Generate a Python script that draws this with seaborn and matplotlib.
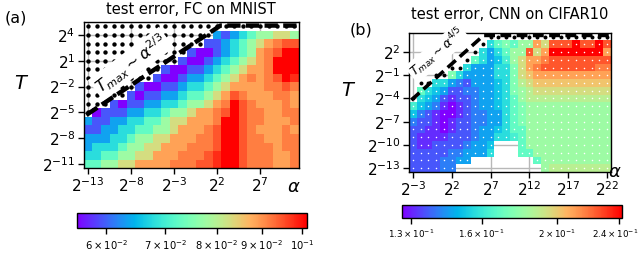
import numpy as np
import pandas as pd
import matplotlib
matplotlib.use("Agg")
import matplotlib.pyplot as plt
import matplotlib.transforms as mtransforms
import seaborn as sns
from matplotlib.colors import LogNorm

# ---------------- data ----------------
# colour codes: index in CODE -> entry in the level list
CODE = "0a1b2c3d4e5f6g7h8i9"

# panel (a): test error, FC on MNIST
levels_a = [0.0556, 0.05748, 0.05943, 0.06144, 0.06352, 0.06567, 0.06789, 0.07019,
            0.07256, 0.07502, 0.07756, 0.08018, 0.08289, 0.08570, 0.08860, 0.09160,
            0.09470, 0.09790, 0.1012]
log2_alpha_a = list(range(-13, 12))      # columns
log2_T_a = list(range(5, -12, -1))       # rows, top to bottom
grid_a = [
    ".........................",
    "...............2123455665",
    "..............11234567h88",
    "............100123457h899",
    "...........1001234567h999",
    ".........100112345677h999",
    "........10012234567h7h89i",
    "......100112334567777hh8h",
    ".....1011223445678h777hh7",
    "...1011223345567h98h777h7",
    ".01112233455677h898hh77hh",
    "211223344566777h998hh777h",
    "11223344556777h8998h777h7",
    "2223345566777hh8998hh77hh",
    "233345566777hhh8998hhh7hh",
    "33445566777hhh8i998hhh77h",
    "4455667777hhh88i998hhh77h",
]
xticks_a = [-13, -8, -3, 2, 7]
yticks_a = [4, 1, -2, -5, -8, -11]
cbar_ticks_a = [0.06, 0.07, 0.08, 0.09, 0.1]
cbar_labels_a = [r"$6\times10^{-2}$", r"$7\times10^{-2}$", r"$8\times10^{-2}$",
                 r"$9\times10^{-2}$", r"$10^{-1}$"]
tmax_a_log2_alpha = [-13.2, 2.4, 11.5]
tmax_a_log2_T = [-5.3, 5.1, 5.1]

# panel (b): test error, CNN on CIFAR10
levels_b = [0.1266, 0.13124, 0.13605, 0.14104, 0.14621, 0.15157, 0.15713, 0.16289,
            0.16886, 0.17505, 0.18147, 0.18812, 0.19502, 0.20217, 0.20958, 0.21726,
            0.22523, 0.23349, 0.2420]
log2_alpha_b = list(range(-3, 23))
log2_T_b = list(range(4, -14, -1))
grid_b = [
    "..........................",
    "..........34e4557688898898",
    ".........32345586799999997",
    "........432cd5677h88888888",
    ".......322233e67h8888888hh",
    ".....e3222233e6g7777777777",
    "...332b1222c3ef6gggggggggg",
    ".43c211bb22c3e5f6666666666",
    ".3c21a11b22c345fffffffffff",
    "dc2ba0a1b22c34e55555555555",
    "cb1a00a1bb2234e55555555555",
    "b11a0a11bb2234e55555555555",
    "11aa0a11b22c34455555555555",
    "1aaaa111b2233d455555555555",
    "1aa1111b22c...455555555555",
    "11111bb2223...445555555555",
    "1111bb22........4555555555",
    "1111bb...........5ffffffff",
]
xticks_b = [-3, 2, 7, 12, 17, 22]
yticks_b = [2, -1, -4, -7, -10, -13]
cbar_ticks_b = [0.13, 0.16, 0.2, 0.24]
cbar_labels_b = [r"$1.3\times10^{-1}$", r"$1.6\times10^{-1}$", r"$2\times10^{-1}$",
                 r"$2.4\times10^{-1}$"]
tmax_b_log2_alpha = [-3.2, 6.1, 22.5]
tmax_b_log2_T = [-4.2, 4.15, 4.15]


def decode(rows, levels):
    return np.array([[np.nan if ch == "." else levels[CODE.index(ch)] for ch in r]
                     for r in rows])


Z_a = decode(grid_a, levels_a)
Z_b = decode(grid_b, levels_b)

# ---------------- figure ----------------
fig = plt.figure(figsize=(6.4, 2.65), dpi=100)
W, H = 640.0, 265.0
ax_a = fig.add_axes([83.7 / W, 1 - 168.3 / H, 215 / W, 146.2 / H])
ax_b = fig.add_axes([409 / W, 1 - 172 / H, 202 / W, 139.3 / H])
cax_a = fig.add_axes([77 / W, 1 - 228 / H, 230 / W, 15 / H])
cax_b = fig.add_axes([402 / W, 1 - 218 / H, 220 / W, 13 / H])


def draw(ax, cax, Z, la, lt, levels, xt, yt, cticks, clabels, title, title_pad, cfs):
    df = pd.DataFrame(Z, index=lt, columns=la)
    sns.heatmap(df, ax=ax, cmap="rainbow", norm=LogNorm(levels[0], levels[-1]),
                cbar_ax=cax, cbar_kws={"orientation": "horizontal"},
                xticklabels=False, yticklabels=False, linewidths=0)
    x0, y0 = la[0], lt[0]
    ax.set_xticks([v - x0 + 0.5 for v in xt])
    ax.set_xticklabels([r"$2^{%d}$" % v for v in xt], fontsize=11)
    ax.set_yticks([y0 - v + 0.5 for v in yt])
    ax.set_yticklabels([r"$2^{%d}$" % v for v in yt], fontsize=11, rotation=0)
    ax.set_xlabel("")
    ax.set_ylabel("")
    ax.tick_params(length=4, width=1, color="k", direction="out", pad=2)
    ax.grid(True, color="#b8b8b8", lw=1.0)
    ax.set_axisbelow(True)
    for s in ax.spines.values():
        s.set_visible(True)
        s.set_color("k")
        s.set_linewidth(1.0)
    ax.set_title(title, fontsize=10.5, pad=title_pad)
    cb = ax.collections[0].colorbar
    cb.outline.set_visible(True)
    cb.outline.set_linewidth(1.0)
    cb.outline.set_edgecolor("k")
    cb.set_ticks(cticks)
    cb.set_ticklabels(clabels)
    cb.ax.minorticks_off()
    cb.ax.tick_params(labelsize=cfs, length=4, width=1, pad=3)
    return cb


cb_a = draw(ax_a, cax_a, Z_a, log2_alpha_a, log2_T_a, levels_a, xticks_a, yticks_a,
            cbar_ticks_a, cbar_labels_a, "test error, FC on MNIST", 6, 7.2)
cb_b = draw(ax_b, cax_b, Z_b, log2_alpha_b, log2_T_b, levels_b, xticks_b, yticks_b,
            cbar_ticks_b, cbar_labels_b, "test error, CNN on CIFAR10", 10, 6.3)
# keep the last colour-bar label of (b) inside the figure edge
last = cb_b.ax.get_xticklabels()[-1]
last.set_transform(last.get_transform() +
                   mtransforms.ScaledTranslation(-4 / 100, 0, fig.dpi_scale_trans))

# (a): black dots on every diverged (NaN) run
jj, ii = np.nonzero(np.isnan(Z_a))
ax_a.scatter(ii + 0.5, jj + 0.5, s=10, c="k", lw=0, zorder=3)
ax_a.plot(np.array(tmax_a_log2_alpha) - log2_alpha_a[0] + 0.5,
          log2_T_a[0] - np.array(tmax_a_log2_T) + 0.5,
          color="k", lw=3.2, ls=(0, (3, 1.2)), zorder=4, clip_on=True)
ax_a.text(0.22, 0.715, r"$T_{max} \sim \alpha^{2/3}$", transform=ax_a.transAxes,
          rotation=37, ha="center", va="center", fontsize=11.5, zorder=5,
          bbox=dict(facecolor="white", edgecolor="none", pad=1.5))

# (b): white sample markers, black dots at the divergence boundary
jj, ii = np.nonzero(~np.isnan(Z_b))
ax_b.scatter(ii + 0.5, jj + 0.5, s=1.2, c="white", lw=0, zorder=3)
bx, by = [], []
for c in range(Z_b.shape[1]):
    col = np.nonzero(~np.isnan(Z_b[:, c]))[0]
    if len(col) and col[0] > 0:
        bx.append(c + 0.5)
        by.append(col[0] - 0.5)
ax_b.scatter(bx, by, s=8, c="k", lw=0, zorder=3)
ax_b.plot(np.array(tmax_b_log2_alpha) - log2_alpha_b[0] + 0.5,
          log2_T_b[0] - np.array(tmax_b_log2_T) + 0.5,
          color="k", lw=2.6, ls=(0, (3, 1.5)), zorder=4)
ax_b.text(0.14, 0.855, r"$T_{max} \sim \alpha^{4/5}$", transform=ax_b.transAxes,
          rotation=40, ha="center", va="center", fontsize=9, zorder=5,
          bbox=dict(facecolor="white", edgecolor="none", pad=1))

# panel letters and axis symbols
fig.text(5 / W, 1 - 18 / H, "(a)", fontsize=11.5, va="center", ha="left")
fig.text(350 / W, 1 - 30 / H, "(b)", fontsize=11.5, va="center", ha="left")
fig.text(22 / W, 1 - 84 / H, r"$T$", fontsize=14, va="center", ha="center")
fig.text(349 / W, 1 - 91 / H, r"$T$", fontsize=14, va="center", ha="center")
fig.text(294 / W, 1 - 187 / H, r"$\alpha$", fontsize=13, va="center", ha="center")
fig.text(615 / W, 1 - 172 / H, r"$\alpha$", fontsize=13, va="center", ha="center")

fig.savefig("out.png", dpi=100)
